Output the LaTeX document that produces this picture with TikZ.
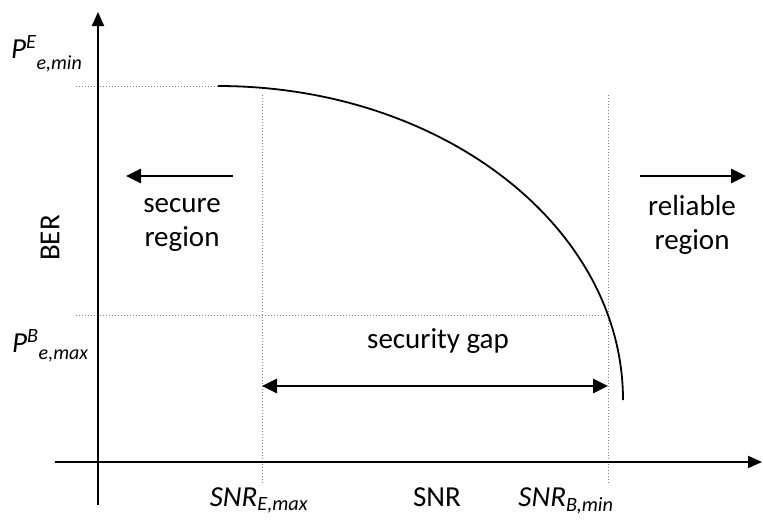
\documentclass[tikz,border=0pt]{standalone}
\usepackage{fontspec}
\setmainfont{Carlito}
\usetikzlibrary{arrows.meta}
\begin{document}
\begin{tikzpicture}[x=1pt,y=-1pt,
  axis/.style={line width=1.9pt,-{Triangle[length=14pt,width=12pt]}},
  guide/.style={dotted, gray, line width=1pt},
  curve/.style={line width=1.8pt},
  dir/.style={line width=2.7pt,-{Triangle[length=15pt,width=14pt]}},
  bidir/.style={line width=2.7pt,{Triangle[length=15pt,width=14pt]}-{Triangle[length=15pt,width=14pt]}},
  lbl/.style={font=\fontsize{29}{34}\selectfont, align=center, inner sep=0pt},
  sub/.style={font=\fontsize{29}{34}\selectfont\itshape, inner sep=0pt},
]
\useasboundingbox (0,0) rectangle (763,523);
% axis end points
\coordinate (yb) at (98,505);
\coordinate (yt) at (98,12);
\coordinate (xl) at (55,462);
\coordinate (xr) at (762,462);
% guide end points
\coordinate (hEl) at (76,86);
\coordinate (cs) at (218,86);
\coordinate (hBl) at (76,315);
\coordinate (hBr) at (608,315);
\coordinate (vEt) at (262,95);
\coordinate (vEb) at (262,485);
\coordinate (vBt) at (608,95);
\coordinate (vBb) at (608,485);
% arrows
\coordinate (gl) at (262,386);
\coordinate (gr) at (608,386);
\coordinate (sl0) at (233,176);
\coordinate (sl1) at (126,176);
\coordinate (rl0) at (640,176);
\coordinate (rl1) at (746,176);

% guides
\draw[guide] (hEl) -- (cs);
\draw[guide] (hBl) -- (hBr);
\draw[guide] (vEt) -- (vEb);
\draw[guide] (vBt) -- (vBb);

% axes
\draw[axis] (yb) -- (yt);
\draw[axis] (xl) -- (xr);

% BER curve
\draw[curve] (cs) arc[start angle=-90, end angle=0, x radius=405, y radius=314];

% arrows
\draw[bidir] (gl) -- (gr);
\draw[dir] (sl0) -- (sl1);
\draw[dir] (rl0) -- (rl1);

% labels
\node[lbl] (secure) at (182,225) {secure\\region};
\node[lbl] (reliable) at (692,225) {reliable\\region};
\node[lbl] (gap) at (438,341) {security gap};
\node[lbl, rotate=90] (ber) at (50,238) {BER};
\node[lbl, anchor=base] (snr) at (437,506) {SNR};
\node[sub, anchor=base] (snrE) at (259,506) {SNR\textsubscript{E,max}};
\node[sub, anchor=base] (snrB) at (566,506) {SNR\textsubscript{B,min}};
\node[sub, anchor=base west] (pE) at (11,58) {P\textsuperscript{E}\raisebox{-11pt}{\fontsize{20}{20}\selectfont e,min}};
\node[sub, anchor=base west] (pB) at (12,352) {P\textsuperscript{B}\raisebox{-7pt}{\fontsize{20}{20}\selectfont e,max}};
\end{tikzpicture}
\end{document}
